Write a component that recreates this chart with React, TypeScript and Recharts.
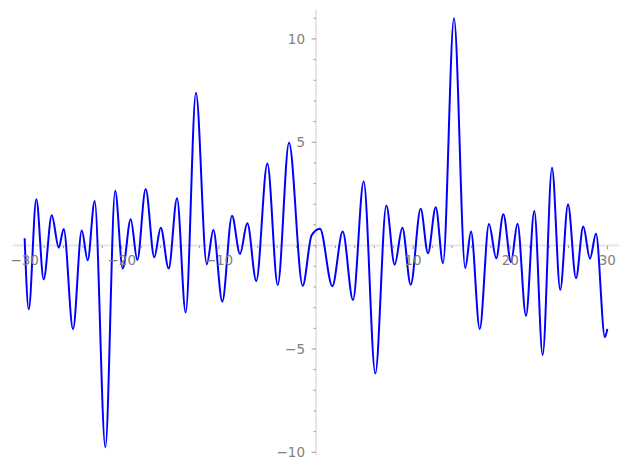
import React from 'react';
import { LineChart, Line, XAxis, YAxis, ReferenceLine, ReferenceDot } from 'recharts';

const xs = [
  -30.0, -29.58, -28.8, -28.04, -27.21, -26.49, -25.98, -25.02, -24.12, -23.51,
  -22.79, -21.69, -20.68, -19.9, -19.08, -18.4, -17.54, -16.65, -15.99, -15.17,
  -14.31, -13.42, -12.36, -11.25, -10.57, -9.65, -8.65, -7.83, -7.07, -6.15,
  -5.01, -3.94, -2.78, -1.37, -0.45, 0.41, 1.68, 2.75, 3.81, 4.91,
  6.11, 7.24, 8.1, 8.89, 9.75, 10.78, 11.53, 12.33, 13.08, 14.21,
  15.37, 15.96, 16.86, 17.81, 18.56, 19.29, 20.08, 20.75, 21.62, 22.48,
  23.34, 24.3, 25.15, 25.95, 26.77, 27.52, 28.21, 28.83, 29.75, 30.0,
];

const ys = [
  0.36, -3.08, 2.24, -1.63, 1.47, -0.1, 0.81, -4.04, 0.73, -0.71,
  2.16, -9.75, 2.65, -1.11, 1.28, -0.69, 2.74, -0.56, 0.87, -1.11,
  2.29, -3.24, 7.4, -0.9, 0.75, -2.71, 1.45, -0.4, 1.08, -1.71,
  3.97, -1.9, 4.98, -1.94, 0.5, 0.82, -1.96, 0.68, -2.63, 3.1,
  -6.19, 1.94, -0.92, 0.87, -1.89, 1.78, -0.37, 1.86, -0.85, 11.0,
  -1.09, 0.68, -4.03, 1.05, -0.61, 1.52, -0.8, 1.06, -3.4, 1.68,
  -5.29, 3.77, -2.14, 2.0, -1.58, 0.92, -0.63, 0.57, -4.43, -4.03,
];

const xMajorTicks = [-30, -20, -10, 10, 20, 30];
const xMajorLabels = ['−30', '−20', '−10', '10', '20', '30'];
const xMinorTicks = [
  -28, -26, -24, -22, -18, -16, -14, -12, -8, -6, -4, -2, 0,
  2, 4, 6, 8, 12, 14, 16, 18, 22, 24, 26, 28,
];
const yMajorTicks = [-10, -5, 5, 10];
const yMajorLabels = ['−10', '−5', '5', '10'];
const yMinorTicks = [-9, -8, -7, -6, -4, -3, -2, -1, 0, 1, 2, 3, 4, 6, 7, 8, 9, 11];

const data = xs.map((x, i) => ({ x, y: ys[i] }));

const X_DOMAIN: [number, number] = [-31.2, 31.2];
const Y_DOMAIN: [number, number] = [-10.13, 11.4];

const AXIS_COLOR = '#e6e6e6';
const TICK_COLOR = '#9a9a9a';
const LABEL_COLOR = '#808080';
const FONT = 'DejaVu Sans, sans-serif';

export default function App() {
  return (
    <div style={{ position: 'absolute', left: 0, top: 0, width: 627, height: 469, background: '#fff' }}>
      <LineChart
        width={627}
        height={469}
        data={data}
        margin={{ top: 10, right: 8, bottom: 14, left: 13 }}
      >
        <XAxis dataKey="x" type="number" domain={X_DOMAIN} allowDataOverflow hide />
        <YAxis type="number" domain={Y_DOMAIN} allowDataOverflow hide />
        <ReferenceLine y={0} stroke={AXIS_COLOR} strokeWidth={2} />
        <ReferenceLine x={0} stroke={AXIS_COLOR} strokeWidth={2} />
        {xMajorTicks.map((t) => (
          <ReferenceLine
            key={'xM' + t}
            segment={[{ x: t, y: 0 }, { x: t, y: -0.18 }]}
            stroke={TICK_COLOR}
            strokeWidth={1}
          />
        ))}
        {xMinorTicks.map((t) => (
          <ReferenceLine
            key={'xm' + t}
            segment={[{ x: t, y: 0 }, { x: t, y: -0.12 }]}
            stroke={TICK_COLOR}
            strokeWidth={1}
          />
        ))}
        {yMajorTicks.map((t) => (
          <ReferenceLine
            key={'yM' + t}
            segment={[{ x: 0, y: t }, { x: -0.45, y: t }]}
            stroke={TICK_COLOR}
            strokeWidth={1}
          />
        ))}
        {yMinorTicks.map((t) => (
          <ReferenceLine
            key={'ym' + t}
            segment={[{ x: 0, y: t }, { x: -0.25, y: t }]}
            stroke={TICK_COLOR}
            strokeWidth={1}
          />
        ))}
        {xMajorTicks.map((t, i) => (
          <ReferenceDot
            key={'xl' + t}
            x={t}
            y={0}
            r={0}
            fill="none"
            stroke="none"
            label={{
              value: xMajorLabels[i],
              position: 'bottom',
              offset: 10,
              fill: LABEL_COLOR,
              fontSize: 13.5,
              fontFamily: FONT,
            }}
          />
        ))}
        {yMajorTicks.map((t, i) => (
          <ReferenceDot
            key={'yl' + t}
            x={0}
            y={t}
            r={0}
            fill="none"
            stroke="none"
            label={{
              value: yMajorLabels[i],
              position: 'left',
              offset: 11,
              fill: LABEL_COLOR,
              fontSize: 13.5,
              fontFamily: FONT,
            }}
          />
        ))}
        <Line
          dataKey="y"
          type="monotone"
          stroke="#0000ff"
          strokeWidth={2}
          dot={false}
          activeDot={false}
          isAnimationActive={false}
        />
      </LineChart>
    </div>
  );
}
